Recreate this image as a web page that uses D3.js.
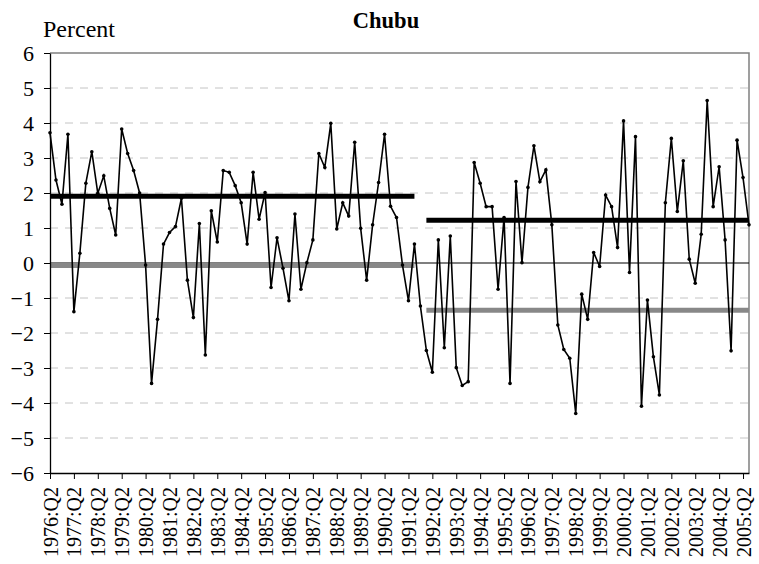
<!DOCTYPE html>
<html>
<head>
<meta charset="utf-8">
<script src="https://cdn.jsdelivr.net/npm/d3@7"></script>
<style>
  body { margin: 0; background: #fff; }
  text { font-family: "Times New Roman", "Liberation Serif", serif; fill: #000; }
</style>
</head>
<body>
<div id="chart"></div>
<script>
// quarterly growth, percent, 1976:Q2 .. 2005:Q3
var startYear = 1976, startQuarter = 2;
var values = [
  3.72, 2.37, 1.68, 3.68, -1.39, 0.28, 2.28, 3.18, 1.99, 2.49,
  1.56, 0.80, 3.83, 3.13, 2.64, 2.00, -0.06, -3.44, -1.61, 0.54,
  0.87, 1.04, 1.85, -0.49, -1.56, 1.13, -2.63, 1.49, 0.60, 2.64,
  2.59, 2.21, 1.72, 0.54, 2.59, 1.25, 2.01, -0.70, 0.72, -0.15,
  -1.08, 1.40, -0.75, 0.01, 0.66, 3.13, 2.73, 3.99, 0.97, 1.72,
  1.34, 3.45, 0.99, -0.49, 1.09, 2.30, 3.68, 1.62, 1.30, -0.06,
  -1.08, 0.54, -1.23, -2.50, -3.12, 0.66, -2.42, 0.77, -2.99, -3.50,
  -3.39, 2.87, 2.28, 1.61, 1.61, -0.75, 1.30, -3.44, 2.33, 0.01,
  2.16, 3.35, 2.32, 2.66, 1.09, -1.77, -2.47, -2.72, -4.30, -0.89,
  -1.61, 0.30, -0.10, 1.94, 1.61, 0.44, 4.06, -0.27, 3.61, -4.09,
  -1.06, -2.68, -3.77, 1.72, 3.56, 1.47, 2.92, 0.11, -0.58, 0.82,
  4.64, 1.61, 2.75, 0.66, -2.51, 3.51, 2.44, 1.09
];

// period averages (two sub-periods)
var periodFrom = ["1976:Q2", "1992:Q1"];
var periodTo   = ["1991:Q3", "2005:Q3"];
var avgUpper   = [1.91, 1.22];
var avgLower   = [-0.07, -1.35];

var yTicks = [-6, -5, -4, -3, -2, -1, 0, 1, 2, 3, 4, 5, 6];
var tickLabels = ["1976:Q2","1977:Q2","1978:Q2","1979:Q2","1980:Q2","1981:Q2",
  "1982:Q2","1983:Q2","1984:Q2","1985:Q2","1986:Q2","1987:Q2","1988:Q2",
  "1989:Q2","1990:Q2","1991:Q2","1992:Q2","1993:Q2","1994:Q2","1995:Q2",
  "1996:Q2","1997:Q2","1998:Q2","1999:Q2","2000:Q2","2001:Q2","2002:Q2",
  "2003:Q2","2004:Q2","2005:Q2"];

var serif = '"Times New Roman", "Liberation Serif", serif';

//build the category names for every quarter
var categories = [];
for (var i = 0; i < values.length; i++) {
  var q = startQuarter - 1 + i;
  categories.push((startYear + Math.floor(q / 4)) + ":Q" + (q % 4 + 1));
}
var data = categories.map(function(c, i) { return {cat: c, v: values[i]}; });

var width = 759, height = 564;
var margin = {top: 53, right: 749, bottom: 473, left: 50};

var svg = d3.select("#chart").append("svg")
    .attr("width", width)
    .attr("height", height);

var x = d3.scalePoint().domain(categories).range([margin.left, margin.right]);
var y = d3.scaleLinear().domain([-6, 6]).range([margin.bottom, margin.top]);

//dashed gridlines
svg.append("g")
  .selectAll("line")
  .data(yTicks.filter(function(d) { return d != 0 && d != 6 && d != -6; }))
  .enter().append("line")
    .attr("x1", margin.left).attr("x2", margin.right)
    .attr("y1", function(d) { return y(d); })
    .attr("y2", function(d) { return y(d); })
    .attr("stroke", "#c4c4c4")
    .attr("stroke-dasharray", "8,7");

//plot border top and right
svg.append("path")
  .attr("d", "M" + margin.left + "," + y(6) + "H" + margin.right + "V" + margin.bottom)
  .attr("fill", "none")
  .attr("stroke", "#808080")
  .attr("stroke-width", 1.5);

//zero line
svg.append("line")
  .attr("x1", margin.left).attr("x2", margin.right)
  .attr("y1", y(0)).attr("y2", y(0))
  .attr("stroke", "#000").attr("stroke-width", 1.2);

//average lines
function levelLines(levels, colour) {
  svg.append("g")
    .selectAll("line")
    .data(levels)
    .enter().append("line")
      .attr("x1", function(d, i) { return x(periodFrom[i]); })
      .attr("x2", function(d, i) { return x(periodTo[i]); })
      .attr("y1", function(d) { return y(d); })
      .attr("y2", function(d) { return y(d); })
      .attr("stroke", colour)
      .attr("stroke-width", 5);
}
levelLines(avgLower, "#888888");
levelLines(avgUpper, "#000000");

//series line and markers
var line = d3.line()
  .x(function(d) { return x(d.cat); })
  .y(function(d) { return y(d.v); });

svg.append("path")
  .datum(data)
  .attr("d", line)
  .attr("fill", "none")
  .attr("stroke", "#000")
  .attr("stroke-width", 1.6);

svg.append("g")
  .selectAll("circle")
  .data(data)
  .enter().append("circle")
    .attr("cx", function(d) { return x(d.cat); })
    .attr("cy", function(d) { return y(d.v); })
    .attr("r", 1.8)
    .attr("fill", "#000");

//axes
var yAxis = d3.axisLeft(y).tickValues(yTicks).tickSize(6).tickSizeOuter(0).tickPadding(10);
var gy = svg.append("g")
  .attr("transform", "translate(" + margin.left + ",0)")
  .call(yAxis);
gy.selectAll("text")
  .style("font-family", serif)
  .style("font-size", "22px")
  .attr("dy", "0.36em");
gy.select(".domain").attr("stroke", "#000").attr("stroke-width", 1.3);

var xAxis = d3.axisBottom(x).tickValues(tickLabels).tickSize(6).tickSizeOuter(0);
var gx = svg.append("g")
  .attr("transform", "translate(0," + margin.bottom + ")")
  .call(xAxis);
gx.select(".domain").attr("stroke", "#000").attr("stroke-width", 1.3);
gx.selectAll("text")
  .style("font-family", serif)
  .style("font-size", "20px")
  .style("text-anchor", "end")
  .attr("x", -14)
  .attr("y", 0)
  .attr("dy", "0.35em")
  .attr("transform", "rotate(-90)");

//titles
svg.append("text")
  .attr("x", 386).attr("y", 28)
  .attr("text-anchor", "middle")
  .style("font-family", serif)
  .style("font-size", "22.5px")
  .style("font-weight", "bold")
  .text("Chubu");

svg.append("text")
  .attr("x", 43).attr("y", 37)
  .style("font-family", serif)
  .style("font-size", "24px")
  .text("Percent");
</script>
</body>
</html>
